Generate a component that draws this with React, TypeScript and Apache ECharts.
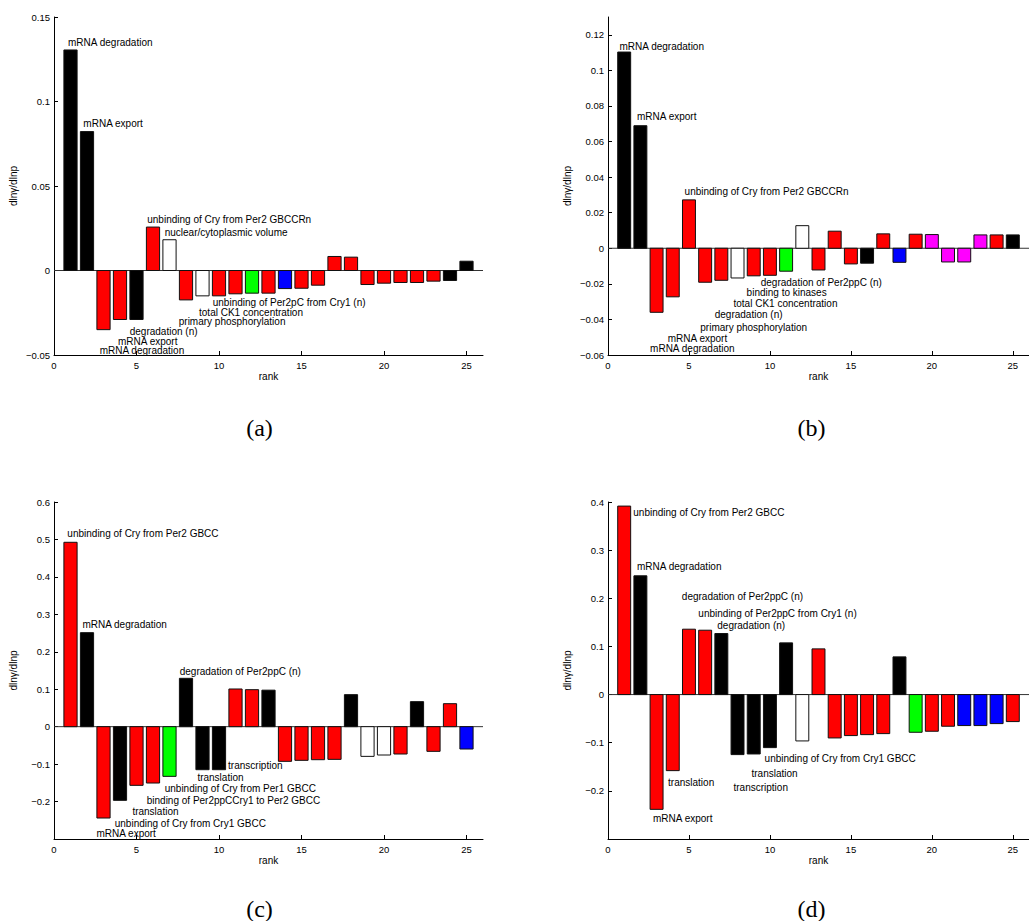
import React, { useEffect, useRef } from "react";
import * as echarts from "echarts";

// ---------- data ----------
const ranks = [1, 2, 3, 4, 5, 6, 7, 8, 9, 10, 11, 12, 13, 14, 15, 16, 17, 18, 19, 20, 21, 22, 23, 24, 25];
const xTicks = [0, 5, 10, 15, 20, 25];

// colour codes: k black, r red, w white, g green, b blue, m magenta
const valuesA = [0.1305, 0.0822, -0.035, -0.029, -0.029, 0.0257, 0.0182, -0.0174, -0.015, -0.015, -0.0138, -0.0134, -0.0134, -0.0107, -0.0105, -0.0087, 0.0083, 0.0079, -0.0083, -0.0075, -0.0071, -0.0071, -0.0063, -0.0059, 0.0055];
const colorsA = ["k", "k", "r", "r", "k", "r", "w", "r", "w", "r", "r", "g", "r", "b", "r", "r", "r", "r", "r", "r", "r", "r", "r", "k", "k"];
const yTicksA = [-0.05, 0, 0.05, 0.1, 0.15];
const labelsA = ["mRNA degradation", "mRNA export", "unbinding of Cry from Per2 GBCCRn", "nuclear/cytoplasmic volume", "degradation (n)", "mRNA export", "mRNA degradation", "unbinding of Per2pC from Cry1 (n)", "total CK1 concentration", "primary phosphorylation"];
const labelXA = [0.85, 1.78, 5.65, 6.71, 4.59, 3.88, 2.77, 9.62, 8.79, 7.56];
const labelYA = [0.135, 0.0867, 0.03, 0.0223, -0.036, -0.042, -0.0475, -0.0189, -0.0248, -0.0301];

const valuesB = [0.1103, 0.0689, -0.036, -0.0273, 0.0272, -0.0191, -0.018, -0.0167, -0.0155, -0.0152, -0.0129, 0.0127, -0.0122, 0.0096, -0.0088, -0.0084, 0.0081, -0.0079, 0.0079, 0.0077, -0.0077, -0.0077, 0.0075, 0.0075, 0.0075];
const colorsB = ["k", "k", "r", "r", "r", "r", "r", "w", "r", "r", "g", "w", "r", "r", "r", "k", "r", "b", "r", "m", "m", "m", "m", "r", "k"];
const yTicksB = [-0.06, -0.04, -0.02, 0, 0.02, 0.04, 0.06, 0.08, 0.1, 0.12];
const labelsB = ["mRNA degradation", "mRNA export", "unbinding of Cry from Per2 GBCCRn", "degradation of Per2ppC (n)", "binding to kinases", "total CK1 concentration", "degradation (n)", "primary phosphorylation", "mRNA export", "mRNA degradation"];
const labelXB = [0.71, 1.79, 4.73, 9.43, 8.56, 7.75, 6.59, 5.7, 3.69, 2.6];
const labelYB = [0.1135, 0.0742, 0.032, -0.0191, -0.0251, -0.0313, -0.0373, -0.0444, -0.0507, -0.0565];

const valuesC = [0.4924, 0.2511, -0.244, -0.1968, -0.1567, -0.1505, -0.1327, 0.1291, -0.1149, -0.1149, 0.1006, 0.0988, 0.0975, -0.0926, -0.0899, -0.0882, -0.0873, 0.0855, -0.0793, -0.0757, -0.073, 0.0668, -0.0659, 0.0614, -0.0597];
const colorsC = ["r", "k", "r", "k", "r", "r", "g", "k", "k", "k", "r", "r", "k", "r", "r", "r", "r", "k", "w", "w", "r", "k", "r", "r", "b"];
const yTicksC = [-0.2, -0.1, 0, 0.1, 0.2, 0.3, 0.4, 0.5, 0.6];
const labelsC = ["unbinding of Cry from Per2 GBCC", "mRNA degradation", "degradation of Per2ppC (n)", "transcription", "translation", "unbinding of Cry from Per1 GBCC", "binding of Per2ppCCry1 to Per2 GBCC", "translation", "unbinding of Cry from Cry1 GBCC", "mRNA export"];
const labelXC = [0.81, 1.72, 7.62, 10.55, 8.69, 6.71, 5.62, 4.75, 3.68, 2.57];
const labelYC = [0.516, 0.272, 0.148, -0.104, -0.1345, -0.164, -0.197, -0.2264, -0.2575, -0.286];

const valuesD = [0.3915, 0.2467, -0.2384, -0.158, 0.1358, 0.1337, 0.1268, -0.1247, -0.1234, -0.1102, 0.1074, -0.0963, 0.0949, -0.0901, -0.0852, -0.0832, -0.0811, 0.0783, -0.0783, -0.0762, -0.0658, -0.0644, -0.0644, -0.0603, -0.0561];
const colorsD = ["r", "k", "r", "r", "r", "r", "k", "k", "k", "k", "k", "w", "r", "r", "r", "r", "r", "k", "g", "r", "r", "b", "b", "b", "r"];
const yTicksD = [-0.2, -0.1, 0, 0.1, 0.2, 0.3, 0.4];
const labelsD = ["unbinding of Cry from Per2 GBCC", "mRNA degradation", "degradation of Per2ppC (n)", "unbinding of Per2ppC from Cry1 (n)", "degradation (n)", "unbinding of Cry from Cry1 GBCC", "translation", "transcription", "translation", "mRNA export"];
const labelXD = [1.56, 1.79, 4.56, 5.58, 6.75, 9.67, 8.86, 7.75, 3.71, 2.78];
const labelYD = [0.378, 0.266, 0.2037, 0.169, 0.1435, -0.1337, -0.1635, -0.1933, -0.183, -0.2584];

const captions = ["(a)", "(b)", "(c)", "(d)"];

// ---------- styling ----------
const COLOR_MAP: Record<string, string> = {
  k: "#000000",
  r: "#ff0000",
  w: "#ffffff",
  g: "#00ff00",
  b: "#0000ff",
  m: "#ff00ff",
};
const SANS = "'Liberation Sans', Arial, Helvetica, sans-serif";
const SERIF = "'Liberation Serif', 'Times New Roman', serif";

const panels = [
  { values: valuesA, colors: colorsA, labels: labelsA, lx: labelXA, ly: labelYA, yMin: -0.05, yMax: 0.15, yTicks: yTicksA, grid: { left: 54, top: 17, width: 429, height: 338 }, cap: { x: 259.5, y: 428 } },
  { values: valuesB, colors: colorsB, labels: labelsB, lx: labelXB, ly: labelYB, yMin: -0.06, yMax: 0.13, yTicks: yTicksB, grid: { left: 608, top: 17, width: 427, height: 338 }, cap: { x: 811.5, y: 428 } },
  { values: valuesC, colors: colorsC, labels: labelsC, lx: labelXC, ly: labelYC, yMin: -0.3, yMax: 0.6, yTicks: yTicksC, grid: { left: 54, top: 502, width: 429, height: 337 }, cap: { x: 259.5, y: 909 } },
  { values: valuesD, colors: colorsD, labels: labelsD, lx: labelXD, ly: labelYD, yMin: -0.3, yMax: 0.4, yTicks: yTicksD, grid: { left: 608, top: 502, width: 427, height: 337 }, cap: { x: 811.5, y: 909 } },
];

const fmt = (v: number) => String(parseFloat(Number(v).toFixed(4))).replace("-", "\u2212");

function buildOption() {
  const grid: any[] = [];
  const xAxis: any[] = [];
  const yAxis: any[] = [];
  const series: any[] = [];
  const graphic: any[] = [];

  panels.forEach((p, i) => {
    grid.push({ ...p.grid, containLabel: false });
    xAxis.push({
      type: "value",
      gridIndex: i,
      min: 0,
      max: 26,
      name: "rank",
      nameLocation: "middle",
      nameGap: 16,
      nameTextStyle: { color: "#000", fontSize: 10, fontFamily: SANS },
      axisLine: { show: true, onZero: false, lineStyle: { color: "#000", width: 1 } },
      axisTick: { show: true, inside: true, length: 4, customValues: xTicks, lineStyle: { color: "#000" } },
      axisLabel: { show: true, customValues: xTicks, color: "#000", fontSize: 9.5, fontFamily: SANS, margin: 5, formatter: fmt },
      splitLine: { show: false },
    });
    yAxis.push({
      type: "value",
      gridIndex: i,
      min: p.yMin,
      max: p.yMax,
      name: "dln\u03b3/dlnp",
      nameLocation: "middle",
      nameGap: 36,
      nameTextStyle: { color: "#000", fontSize: 10, fontFamily: SANS },
      axisLine: { show: true, onZero: false, lineStyle: { color: "#000", width: 1 } },
      axisTick: { show: true, inside: true, length: 4, customValues: p.yTicks, lineStyle: { color: "#000" } },
      axisLabel: { show: true, customValues: p.yTicks, color: "#000", fontSize: 9.5, fontFamily: SANS, margin: 4, formatter: fmt },
      splitLine: { show: false },
    });

    // zero baseline
    series.push({
      type: "line",
      xAxisIndex: i,
      yAxisIndex: i,
      data: [[0, 0], [26, 0]],
      symbol: "none",
      silent: true,
      lineStyle: { color: "#333", width: 1 },
      z: 2,
    });

    // bars
    const colors = p.colors;
    series.push({
      type: "custom",
      xAxisIndex: i,
      yAxisIndex: i,
      data: p.values.map((v, j) => [ranks[j], v]),
      clip: false,
      silent: true,
      z: 3,
      renderItem: (params: any, api: any) => {
        const x = api.value(0);
        const v = api.value(1);
        const a = api.coord([x - 0.4, v]);
        const b = api.coord([x + 0.4, 0]);
        return {
          type: "rect",
          shape: {
            x: a[0],
            y: Math.min(a[1], b[1]),
            width: b[0] - a[0],
            height: Math.abs(b[1] - a[1]),
          },
          style: { fill: COLOR_MAP[colors[params.dataIndex]], stroke: "#111", lineWidth: 1 },
        };
      },
    });

    // text annotations
    const texts = p.labels;
    series.push({
      type: "custom",
      xAxisIndex: i,
      yAxisIndex: i,
      data: p.lx.map((x, j) => [x, p.ly[j]]),
      clip: false,
      silent: true,
      z: 4,
      renderItem: (params: any, api: any) => {
        const c = api.coord([api.value(0), api.value(1)]);
        return {
          type: "text",
          x: c[0],
          y: c[1],
          style: {
            text: texts[params.dataIndex],
            fill: "#000",
            fontSize: 10,
            fontFamily: SANS,
            align: "left",
            verticalAlign: "middle",
          },
        };
      },
    });

    graphic.push({
      type: "text",
      x: p.cap.x,
      y: p.cap.y,
      style: {
        text: captions[i],
        fill: "#000",
        fontSize: 24,
        fontFamily: SERIF,
        align: "center",
        verticalAlign: "middle",
      },
    });
  });

  return {
    animation: false,
    backgroundColor: "#ffffff",
    grid,
    xAxis,
    yAxis,
    series,
    graphic,
  };
}

export default function App() {
  const ref = useRef<HTMLDivElement>(null);
  useEffect(() => {
    if (!ref.current) return;
    const chart = echarts.init(ref.current, undefined, { renderer: "svg" });
    chart.setOption(buildOption() as any);
    return () => chart.dispose();
  }, []);
  return (
    <div
      ref={ref}
      style={{ position: "fixed", left: 0, top: 0, width: 1029, height: 921, background: "#fff" }}
    />
  );
}
